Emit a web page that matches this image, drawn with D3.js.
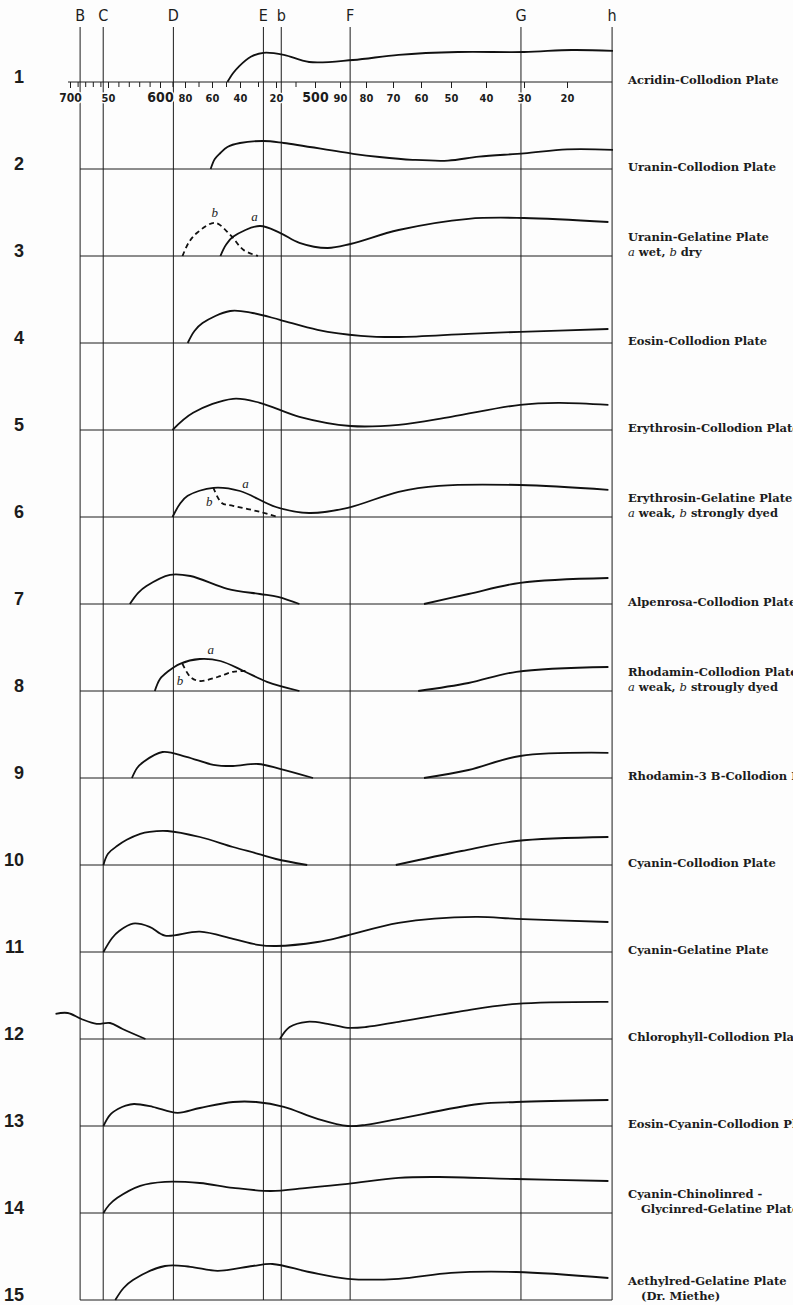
<!DOCTYPE html>
<html>
<head>
<meta charset="utf-8">
<script src="https://cdnjs.cloudflare.com/ajax/libs/d3/7.8.5/d3.min.js"></script>
<style>
body{margin:0;background:#fdfdfd;}
svg{display:block;}
</style>
</head>
<body>
<div id="chart"></div>
<script>
// Fraunhofer lines (nm)
var lineNames=["B","C","D","E","b","F","G","h"];
var lineNm=[686.7,656.3,589.3,527.0,517.3,486.1,430.8,410.2];

// wavelength ruler
var majorNm=[700,650,600,580,560,540,520,500,490,480,470,460,450,440,430,420];
var majorLabels=["700","50","600","80","60","40","20","500","90","80","70","60","50","40","30","20"];
var minorNm=[690,680,670,660,640,630,620,610,590,570,550,530,510];

var rows=d3.range(1,16);
var plateNames=["Acridin-Collodion Plate","Uranin-Collodion Plate","Uranin-Gelatine Plate",
  "Eosin-Collodion Plate","Erythrosin-Collodion Plate","Erythrosin-Gelatine Plate",
  "Alpenrosa-Collodion Plate","Rhodamin-Collodion Plate","Rhodamin-3 B-Collodion Plate",
  "Cyanin-Collodion Plate","Cyanin-Gelatine Plate","Chlorophyll-Collodion Plate",
  "Eosin-Cyanin-Collodion Plate","Cyanin-Chinolinred -","Aethylred-Gelatine Plate"];
var plateNotes=["","","a wet, b dry","","","a weak, b strongly dyed","","a weak, b strougly dyed",
  "","","","","","Glycinred-Gelatine Plate","(Dr. Miethe)"];

// sensitivity curves: [wavelength nm, relative sensitivity]
var acridin=[[549,0],[545,22],[541,38],[534,63],[527,73],[516,68],[503,50],[485,55],[468,68],[448,75],[430,75],[419,80],[410,78]];
var uraninColl=[[561,0],[558,25],[554,40],[549,55],[540,65],[527,70],[516,65],[485,38],[475,30],[463,23],[451,21],[442,31],[430,39],[420,49],[410,48]];
var uraninGelA=[[554,0],[550,28],[545,48],[529,75],[518,58],[508,33],[495,20],[486,30],[468,65],[445,93],[430,95],[411,85]];
var uraninGelB=[[582,0],[577,35],[571,58],[558,83],[547,53],[538,15],[530,0]];
var eosin=[[578,0],[573,30],[567,50],[547,80],[533,75],[518,58],[499,33],[482,18],[468,15],[445,23],[431,28],[411,35]];
var erythColl=[[590,0],[574,43],[545,78],[529,68],[508,33],[486,10],[468,13],[450,33],[431,63],[422,68],[411,63]];
var erythGelA=[[590,0],[584,33],[578,53],[559,73],[540,65],[520,25],[503,10],[487,23],[468,63],[454,78],[431,80],[411,68]];
var erythGelB=[[559,73],[553,35],[545,28],[529,13],[519,0]];
var alpenrosaRed=[[629,0],[621,28],[613,45],[592,73],[576,70],[549,38],[529,25],[519,18],[508,0]];
var alpenrosaBlue=[[459,0],[445,25],[431,53],[411,65]];
var rhodA=[[605,0],[600,30],[594,48],[584,68],[569,80],[554,75],[538,50],[525,23],[508,0]];
var rhodB=[[582,68],[576,35],[569,25],[556,35],[545,48],[537,50]];
var rhodBlue=[[461,0],[445,20],[432,48],[411,60]];
var rhod3bRed=[[627,0],[622,25],[616,40],[598,65],[579,53],[559,33],[545,30],[530,35],[518,23],[501,0]];
var rhod3bBlue=[[459,0],[445,20],[431,55],[411,63]];
var cyaninRed=[[656,0],[650,28],[641,48],[632,63],[619,78],[610,83],[594,85],[569,70],[545,45],[530,28],[520,15],[504,0]];
var cyaninBlue=[[469,0],[447,35],[432,60],[411,70]];
var cyaninGel=[[656,0],[646,35],[639,53],[626,71],[610,63],[596,41],[569,51],[545,33],[530,18],[520,15],[499,25],[488,40],[468,73],[443,88],[432,83],[411,75]];
var chloroRed=[[719,63],[703,65],[685,50],[665,38],[648,40],[636,25],[614,0]];
var chloroBlue=[[518,0],[513,30],[504,43],[495,38],[487,28],[480,30],[468,43],[448,68],[432,88],[411,93]];
var eosinCyanin=[[656,0],[648,28],[640,43],[633,51],[625,55],[607,48],[586,33],[569,45],[545,60],[531,60],[516,48],[499,18],[487,0],[480,3],[468,18],[442,55],[432,60],[411,65]];
var chinolin=[[656,0],[649,20],[641,38],[619,68],[596,78],[569,75],[545,63],[523,55],[504,63],[487,73],[468,88],[454,90],[432,85],[411,80]];
var aethylred=[[643,0],[635,30],[626,50],[596,85],[576,83],[556,73],[533,85],[522,90],[503,70],[487,53],[468,53],[450,68],[432,70],[411,55]];

var series=[
  {row:1,pts:acridin},{row:2,pts:uraninColl},
  {row:3,pts:uraninGelA},{row:3,pts:uraninGelB,dashed:true},
  {row:4,pts:eosin},{row:5,pts:erythColl},
  {row:6,pts:erythGelA},{row:6,pts:erythGelB,dashed:true},
  {row:7,pts:alpenrosaRed},{row:7,pts:alpenrosaBlue},
  {row:8,pts:rhodA},{row:8,pts:rhodB,dashed:true},{row:8,pts:rhodBlue},
  {row:9,pts:rhod3bRed},{row:9,pts:rhod3bBlue},
  {row:10,pts:cyaninRed},{row:10,pts:cyaninBlue},
  {row:11,pts:cyaninGel},
  {row:12,pts:chloroRed},{row:12,pts:chloroBlue},
  {row:13,pts:eosinCyanin},{row:14,pts:chinolin},{row:15,pts:aethylred}
];

// curve letters: [row, nm, sensitivity, letter]
var curveMarks=[[3,558,98,"b"],[3,532,88,"a"],[6,537,73,"a"],[6,562,28,"b"],[8,561,93,"a"],[8,584,15,"b"]];

var W=793,H=1305;
var svg=d3.select("#chart").append("svg").attr("width",W).attr("height",H);
svg.append("rect").attr("width",W).attr("height",H).attr("fill","#fdfdfd");

// prism spectrum: non-linear wavelength scale
var x=d3.scaleLinear()
  .domain([700,650,600,580,560,540,520,500,490,480,470,460,450,440,430,420,410])
  .range([70,108,160,185,212,240,276,315,340,366,393,421,451,486,524,567,613]);
var rowY=d3.scalePoint().domain(rows).range([82,1300]);
var h=d3.scaleLinear().domain([0,100]).range([0,40]);

var left=x(lineNm[0]),right=x(lineNm[lineNm.length-1]);
var ink="#1c1c1c";

// vertical spectral lines
svg.append("g").selectAll("line").data(lineNm).join("line")
  .attr("x1",d=>x(d)).attr("x2",d=>x(d))
  .attr("y1",27).attr("y2",rowY(15))
  .attr("stroke",ink).attr("stroke-width",1);

svg.append("g").selectAll("text").data(lineNames).join("text")
  .attr("x",(d,i)=>x(lineNm[i])).attr("y",21)
  .attr("text-anchor","middle")
  .attr("font-family","'Liberation Sans Narrow','DejaVu Sans Condensed',sans-serif")
  .attr("font-size",16).attr("fill",ink)
  .text(d=>d);

// baselines
svg.append("g").selectAll("line").data(rows).join("line")
  .attr("x1",d=>d===1?x(700)-2:left).attr("x2",right)
  .attr("y1",d=>rowY(d)).attr("y2",d=>rowY(d))
  .attr("stroke",ink).attr("stroke-width",1);

// ruler on row 1
var minorG=svg.append("g").attr("transform","translate(0,"+rowY(1)+")")
  .call(d3.axisBottom(x).tickValues(minorNm).tickSize(5).tickFormat(""));
minorG.select(".domain").remove();
minorG.style("color",ink);

var majorG=svg.append("g").attr("transform","translate(0,"+rowY(1)+")")
  .call(d3.axisBottom(x).tickValues(majorNm).tickSize(6)
    .tickFormat(d=>majorLabels[majorNm.indexOf(d)]));
majorG.select(".domain").remove();
majorG.style("color",ink);
majorG.selectAll("text")
  .attr("y",20).attr("dy",null)
  .attr("font-family","'Liberation Sans Narrow','DejaVu Sans Condensed',sans-serif")
  .attr("font-size",d=>d===700?12:(majorLabels[majorNm.indexOf(d)].length===3?14:11))
  .attr("font-weight","bold")
  .attr("stroke","#fdfdfd").attr("stroke-width",3).attr("paint-order","stroke")
  .attr("fill",ink);

// curves
var line=d3.line().curve(d3.curveCatmullRom.alpha(0.5));
svg.append("g").selectAll("path").data(series).join("path")
  .attr("d",s=>line(s.pts.map(p=>[x(p[0]),rowY(s.row)-h(p[1])])))
  .attr("fill","none").attr("stroke","#111").attr("stroke-width",1.8)
  .attr("stroke-linejoin","round")
  .attr("stroke-dasharray",s=>s.dashed?"5,3.5":null);

svg.append("g").selectAll("text").data(curveMarks).join("text")
  .attr("x",d=>x(d[1])).attr("y",d=>rowY(d[0])-h(d[2]))
  .attr("text-anchor","middle")
  .attr("font-family","'Liberation Serif',serif").attr("font-style","italic")
  .attr("font-size",13).attr("fill",ink)
  .text(d=>d[3]);

// row numbers
svg.append("g").selectAll("text").data(rows).join("text")
  .attr("x",24).attr("y",d=>rowY(d)+1)
  .attr("text-anchor","end")
  .attr("font-family","'Liberation Sans',sans-serif").attr("font-weight","bold")
  .attr("font-size",18).attr("fill",ink)
  .text(d=>d);

// plate labels
var labelX=628;
var lab=svg.append("g")
  .attr("font-family","'DejaVu Serif',serif").attr("font-weight","bold")
  .attr("font-size",11.5).attr("fill",ink);
rows.forEach(function(r,i){
  var note=plateNotes[i];
  var y0=rowY(r);
  lab.append("text").attr("x",labelX).attr("y",note?y0-15:y0+2).text(plateNames[i]);
  if(note){
    var isLegend=/^[ab] /.test(note);
    var t=lab.append("text").attr("x",isLegend?labelX:labelX+13).attr("y",y0);
    note.split(/(\b[ab]\b)/).forEach(function(part){
      if(!part)return;
      var sp=t.append("tspan").text(part);
      if(isLegend&&(part==="a"||part==="b"))sp.attr("font-style","italic").attr("font-weight","normal");
    });
  }
});
</script>
</body>
</html>
